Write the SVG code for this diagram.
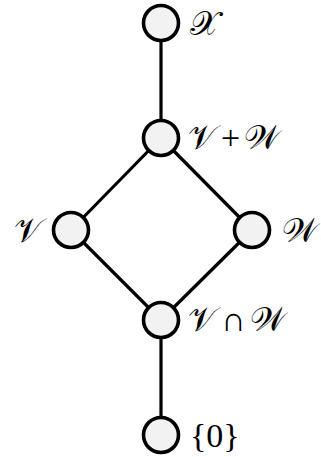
<svg xmlns="http://www.w3.org/2000/svg" width="321" height="457" viewBox="0 0 321 457">
<style>
.node{fill:#f2f2f2;stroke:#000;stroke-width:3.6}
.edge{stroke:#000;stroke-width:3.2;fill:none}
.lbl{font-family:"Liberation Serif",serif;font-size:34px;fill:#000}
.s{font-size:34px}
</style>
<rect width="321" height="457" fill="#fff"/>
<g id="connectors">
<line class="edge" x1="161" y1="23" x2="161" y2="138"/>
<line class="edge" x1="161" y1="138" x2="71" y2="230"/>
<line class="edge" x1="161" y1="138" x2="252" y2="230"/>
<line class="edge" x1="71" y1="230" x2="161" y2="320"/>
<line class="edge" x1="252" y1="230" x2="161" y2="320"/>
<line class="edge" x1="161" y1="320" x2="161" y2="435"/>
</g>
<g id="n-X"><circle class="node" cx="161" cy="23" r="17.5"/><text class="lbl s" x="190" y="35">𝒳</text></g>
<g id="n-VplusW"><circle class="node" cx="161" cy="138" r="17.5"/><text class="lbl" x="188" y="149"><tspan class="s">𝒱</tspan><tspan dx="5">+</tspan><tspan class="s" dx="4">𝒲</tspan></text></g>
<g id="n-V"><circle class="node" cx="71" cy="230" r="17.5"/><text class="lbl s" x="14" y="242">𝒱</text></g>
<g id="n-W"><circle class="node" cx="252" cy="230" r="17.5"/><text class="lbl s" x="282" y="242">𝒲</text></g>
<g id="n-VcapW"><circle class="node" cx="161" cy="320" r="17.5"/><text class="lbl" x="188" y="331"><tspan class="s">𝒱</tspan><tspan dx="5">∩</tspan><tspan class="s" dx="4">𝒲</tspan></text></g>
<g id="n-0"><circle class="node" cx="161" cy="435" r="17.5"/><text class="lbl" x="190" y="447">{0}</text></g>
</svg>
